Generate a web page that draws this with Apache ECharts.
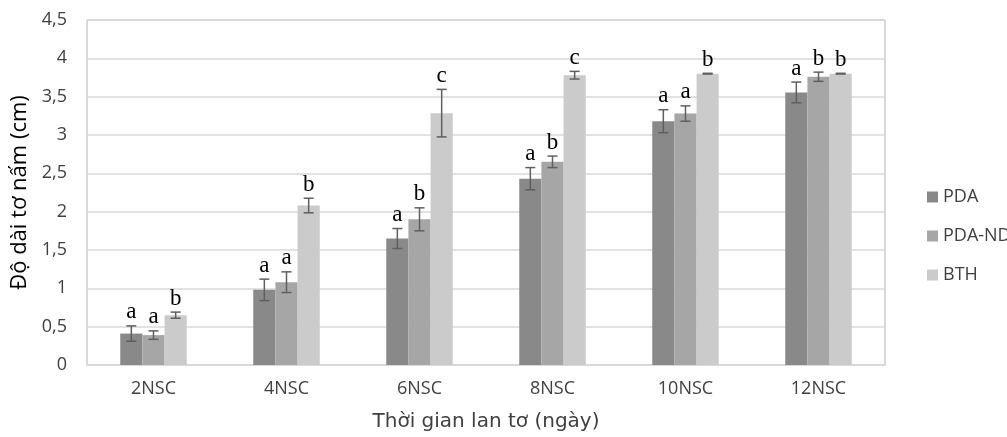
<!DOCTYPE html>
<html><head><meta charset="utf-8">
<script src="https://cdn.jsdelivr.net/npm/echarts@6/dist/echarts.min.js"></script>
<style>html,body{margin:0;padding:0;background:#fff}#c{width:1007px;height:437px}</style>
</head><body><div id="c"></div>
<script>
const categories = ['2NSC','4NSC','6NSC','8NSC','10NSC','12NSC'];
const seriesNames = ['PDA','PDA-ND','BTH'];
const pda    = [0.41, 0.98, 1.65, 2.43, 3.18, 3.555];
const pdaNd  = [0.39, 1.08, 1.90, 2.65, 3.28, 3.76];
const bth    = [0.65, 2.08, 3.285, 3.78, 3.80, 3.80];
const pdaErr   = [0.10, 0.14, 0.13, 0.145, 0.15, 0.135];
const pdaNdErr = [0.055, 0.135, 0.15, 0.075, 0.10, 0.06];
const bthErr   = [0.04, 0.095, 0.31, 0.05, 0.005, 0.005];
const pdaLetters   = ['a','a','a','a','a','a'];
const pdaNdLetters = ['a','a','b','b','a','b'];
const bthLetters   = ['b','b','c','c','b','b'];
const yTicks = ['0','0,5','1','1,5','2','2,5','3','3,5','4','4,5'];

const values = [pda, pdaNd, bth];
const errs = [pdaErr, pdaNdErr, bthErr];
const letters = [pdaLetters, pdaNdLetters, bthLetters];
const colors = ['#898989', '#a6a6a6', '#cbcbcb'];
const catGap = 0.5;

const chart = echarts.init(document.getElementById('c'));
const series = [];
for (let i = 0; i < 3; i++) {
  series.push({
    name: seriesNames[i], type: 'bar', data: values[i],
    barGap: '0%', barCategoryGap: '50%',
    itemStyle: { color: colors[i] }, z: 2
  });
}
for (let i = 0; i < 3; i++) {
  const idx = i;
  series.push({
    type: 'custom', name: 'err' + i, silent: true, z: 5,
    data: categories.map((c, k) => [k, values[idx][k], errs[idx][k]]),
    encode: { x: 0, y: 1 },
    renderItem: function (params, api) {
      const k = api.value(0);
      const v = api.value(1);
      const e = api.value(2);
      const catW = api.size([1, 0])[0];
      const bw = catW * (1 - catGap) / 3;
      const c = api.coord([k, v]);
      const x = c[0] + (idx - 1) * bw;
      const top = api.coord([k, v + e])[1];
      const bot = api.coord([k, v - e])[1];
      const cap = 5;
      const st = { stroke: '#5f5f5f', lineWidth: 1.5 };
      const txt = letters[idx][k];
      return {
        type: 'group', children: [
          { type: 'line', shape: { x1: x, y1: top, x2: x, y2: bot }, style: st },
          { type: 'line', shape: { x1: x - cap, y1: top, x2: x + cap, y2: top }, style: st },
          { type: 'line', shape: { x1: x - cap, y1: bot, x2: x + cap, y2: bot }, style: st },
          { type: 'text', x: x, y: top - 2, style: { text: txt, fill: '#000', font: '23px "Liberation Serif", serif', align: 'center', verticalAlign: 'bottom' } }
        ]
      };
    }
  });
}

chart.setOption({
  animation: false,
  grid: { left: 87, right: 122, top: 20, bottom: 71, show: true, borderColor: '#b3b3b3', borderWidth: 1 },
  legend: {
    data: seriesNames, orient: 'vertical', left: 922, top: 183, itemGap: 21,
    itemWidth: 11, itemHeight: 11, icon: 'rect',
    textStyle: { fontFamily: 'Open Sans, sans-serif', fontSize: 18, color: '#404040' }
  },
  xAxis: {
    type: 'category', data: categories,
    axisLine: { lineStyle: { color: '#d9d9d9', width: 1.5 } },
    axisTick: { show: false },
    axisLabel: { fontFamily: 'Open Sans, sans-serif', fontSize: 18, color: '#404040', margin: 15 },
    name: 'Thời gian lan tơ (ngày)', nameLocation: 'middle', nameGap: 47,
    nameTextStyle: { fontFamily: 'DejaVu Sans, sans-serif', fontSize: 20, color: '#404040' }
  },
  yAxis: {
    type: 'value', min: 0, max: 4.5, interval: 0.5,
    axisLine: { show: false }, axisTick: { show: false },
    splitLine: { lineStyle: { color: '#d9d9d9', width: 1.5 } },
    axisLabel: { fontFamily: 'Open Sans, sans-serif', fontSize: 18, color: '#404040', margin: 20,
      formatter: function (v) { return yTicks[Math.round(v * 2)]; } },
    name: 'Độ dài tơ nấm (cm)', nameLocation: 'middle', nameGap: 54, nameRotate: 90,
    nameTextStyle: { fontFamily: 'Open Sans, sans-serif', fontSize: 22, color: '#000' }
  },
  series: series
});
</script>
</body></html>
